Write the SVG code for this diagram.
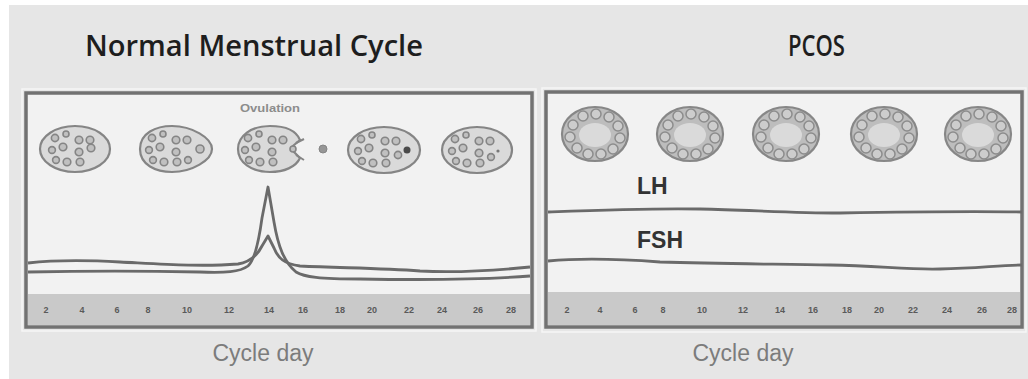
<svg xmlns="http://www.w3.org/2000/svg" width="1028" height="379" viewBox="0 0 1028 379">
  <style>
    .title { font-family: "Open Sans", "Liberation Sans", sans-serif; font-size: 28px; font-weight: 600; fill: #1e1e1e; }
    .axislbl { font-family: "Liberation Sans", Arial, sans-serif; font-size: 23px; fill: #7c7c7c; }
    .tick { font-family: "Liberation Sans", Arial, sans-serif; font-size: 9px; font-weight: bold; fill: #5a5a5a; text-anchor: middle; }
    .hormone { font-family: "Liberation Sans", Arial, sans-serif; font-size: 23px; font-weight: bold; fill: #333; }
    .panel { fill: #f2f2f2; stroke: #727272; stroke-width: 3.5; }
    .halo { fill: none; stroke: #f6f6f6; stroke-width: 1.5; }
    .band { fill: #c9c9c9; }
    .curve { fill: none; stroke: #6a6a6a; stroke-width: 2.8; stroke-linejoin: round; }
    .ovary { fill: #dadada; stroke: #858585; stroke-width: 2.2; }
    .fol { fill: #c0c0c0; stroke: #858585; stroke-width: 1.6; }
    .pco { fill: #bdbdbd; stroke: #878787; stroke-width: 2.2; }
    .pcofol { fill: #cdcdcd; stroke: #8c8c8c; stroke-width: 1.5; }
    .pcocore { fill: #dadada; stroke: none; }
  </style>
  <defs>
    <!-- scattered follicles of a normal ovary, centred on 0,0 -->
    <g id="follicles">
      <circle class="fol" cx="-20" cy="-11" r="3.6"/>
      <circle class="fol" cx="-9" cy="-15" r="3"/>
      <circle class="fol" cx="4" cy="-9" r="3.8"/>
      <circle class="fol" cx="15" cy="-9" r="3.8"/>
      <circle class="fol" cx="-23" cy="1" r="3.4"/>
      <circle class="fol" cx="-12" cy="-2" r="3.8"/>
      <circle class="fol" cx="4" cy="3" r="3.8"/>
      <circle class="fol" cx="-19" cy="11" r="3.4"/>
      <circle class="fol" cx="-8" cy="13" r="3.8"/>
      <circle class="fol" cx="5" cy="13" r="3.8"/>
    </g>
    <!-- polycystic ovary: ring of peripheral follicles round a pale core -->
    <g id="pcoOvary">
      <ellipse class="pco" cx="0" cy="0" rx="33" ry="27"/>
      <ellipse class="pcocore" cx="0" cy="1" rx="16" ry="12"/>
      <circle class="pcofol" cx="-22" cy="-9" r="5"/>
      <circle class="pcofol" cx="-12" cy="-18" r="5"/>
      <circle class="pcofol" cx="1" cy="-20" r="5"/>
      <circle class="pcofol" cx="14" cy="-17" r="5"/>
      <circle class="pcofol" cx="23" cy="-8" r="5"/>
      <circle class="pcofol" cx="25" cy="4" r="5"/>
      <circle class="pcofol" cx="18" cy="15" r="5"/>
      <circle class="pcofol" cx="6" cy="20" r="5"/>
      <circle class="pcofol" cx="-7" cy="20" r="5"/>
      <circle class="pcofol" cx="-18" cy="14" r="5"/>
      <circle class="pcofol" cx="-25" cy="3" r="5"/>
    </g>
  </defs>

  <!-- backdrop -->
  <rect x="0" y="0" width="1028" height="379" fill="#ffffff"/>
  <rect x="9" y="5" width="1019" height="374" fill="#e6e6e6"/>

  <!-- headings -->
  <text class="title" x="85" y="56" textLength="338" lengthAdjust="spacingAndGlyphs">Normal Menstrual Cycle</text>
  <text class="title" x="788" y="56" textLength="57" lengthAdjust="spacingAndGlyphs">PCOS</text>

  <!-- ===== normal cycle chart ===== -->
  <g id="normal-panel">
    <rect class="halo" x="22" y="89" width="514" height="242"/>
    <rect class="panel" x="26" y="93" width="506" height="234"/>
    <rect class="band" x="28" y="294" width="502" height="31"/>
    <g id="normal-ticks">
      <text class="tick" x="46" y="313">2</text>
      <text class="tick" x="82" y="313">4</text>
      <text class="tick" x="117" y="313">6</text>
      <text class="tick" x="148" y="313">8</text>
      <text class="tick" x="187" y="313">10</text>
      <text class="tick" x="229" y="313">12</text>
      <text class="tick" x="269" y="313">14</text>
      <text class="tick" x="303" y="313">16</text>
      <text class="tick" x="340" y="313">18</text>
      <text class="tick" x="372" y="313">20</text>
      <text class="tick" x="409" y="313">22</text>
      <text class="tick" x="442" y="313">24</text>
      <text class="tick" x="478" y="313">26</text>
      <text class="tick" x="511" y="313">28</text>
    </g>
  </g>
  <text class="axislbl" x="263" y="361" text-anchor="middle">Cycle day</text>

  <text id="ovulation-label" x="270" y="112" text-anchor="middle" font-family="Liberation Sans, Arial, sans-serif" font-size="10.5" font-weight="bold" fill="#8c8c8c" textLength="60" lengthAdjust="spacingAndGlyphs">Ovulation</text>

  <!-- ovary sequence through the cycle -->
  <g id="ovary-1">
    <ellipse class="ovary" cx="75" cy="149" rx="35" ry="23"/>
    <use href="#follicles" x="75" y="149"/>
    <circle class="fol" cx="91" cy="148" r="3.8"/>
  </g>
  <g id="ovary-2">
    <path class="ovary" d="M140,149 C140,133 156,126 172,126 C192,126 212,138 212,149 C212,160 192,172 172,172 C156,172 140,165 140,149 Z"/>
    <use href="#follicles" x="172" y="149"/>
    <circle class="fol" cx="200" cy="149" r="4"/>
    <circle class="fol" cx="188" cy="160" r="3.4"/>
  </g>
  <g id="ovary-3">
    <path class="ovary" d="M300,140 C296,130 284,126 270,126 C251,126 238,136 238,149 C238,162 251,172 270,172 C284,172 296,167 300,158 L294,152 L293,146 Z"/>
    <use href="#follicles" x="268" y="149"/>
    <path d="M296,143 L304,139 M296,155 L304,160" stroke="#858585" stroke-width="2" fill="none"/>
    <circle class="fol" cx="293" cy="149" r="3"/>
    <circle cx="323" cy="149" r="4" fill="#969696" stroke="#858585" stroke-width="1"/>
  </g>
  <g id="ovary-4">
    <ellipse class="ovary" cx="384" cy="150" rx="36" ry="23"/>
    <use href="#follicles" x="381" y="150"/>
    <circle class="fol" cx="398" cy="155" r="3.6"/>
    <circle cx="407" cy="150" r="3.5" fill="#4a4a4a"/>
  </g>
  <g id="ovary-5">
    <ellipse class="ovary" cx="477" cy="150" rx="35" ry="23"/>
    <use href="#follicles" x="475" y="150"/>
    <circle class="fol" cx="491" cy="157" r="3.4"/>
    <circle cx="498" cy="151" r="1.6" fill="#777"/>
  </g>

  <!-- hormone curves, normal cycle -->
  <g id="normal-curves">
    <path class="curve" d="M28,263 C55,260 85,260 120,262 C160,264 200,267 238,264 C250,262 258,254 262,246 L268,236 L274,248 C278,258 284,264 300,266 C340,268 380,268 420,271 C460,273 500,270 530,267"/>
    <path class="curve" d="M28,272 C80,271 150,271 200,272 C225,273 240,272 248,266 C255,260 259,240 262,218 L268,187 L274,222 C278,246 284,262 296,272 C304,277 320,279 360,279 C420,280 480,280 530,276"/>
  </g>

  <!-- ===== PCOS chart ===== -->
  <g id="pcos-panel">
    <rect class="halo" x="542" y="88" width="484" height="244"/>
    <rect class="panel" x="546" y="92" width="476" height="235" stroke-width="3"/>
    <rect class="band" x="548" y="292" width="472" height="33"/>
    <g id="pcos-ticks">
      <text class="tick" x="567" y="313">2</text>
      <text class="tick" x="600" y="313">4</text>
      <text class="tick" x="635" y="313">6</text>
      <text class="tick" x="663" y="313">8</text>
      <text class="tick" x="702" y="313">10</text>
      <text class="tick" x="743" y="313">12</text>
      <text class="tick" x="780" y="313">14</text>
      <text class="tick" x="813" y="313">16</text>
      <text class="tick" x="847" y="313">18</text>
      <text class="tick" x="879" y="313">20</text>
      <text class="tick" x="913" y="313">22</text>
      <text class="tick" x="947" y="313">24</text>
      <text class="tick" x="982" y="313">26</text>
      <text class="tick" x="1012" y="313">28</text>
    </g>
  </g>
  <text class="axislbl" x="743" y="361" text-anchor="middle">Cycle day</text>

  <g id="pco-1"><use href="#pcoOvary" x="595" y="134"/></g>
  <g id="pco-2"><use href="#pcoOvary" x="690" y="134"/></g>
  <g id="pco-3"><use href="#pcoOvary" x="786" y="134"/></g>
  <g id="pco-4"><use href="#pcoOvary" x="884" y="134"/></g>
  <g id="pco-5"><use href="#pcoOvary" x="978" y="134"/></g>

  <g id="lh-label"><text class="hormone" x="637" y="194">LH</text></g>
  <g id="fsh-label"><text class="hormone" x="637" y="248">FSH</text></g>

  <!-- flat hormone levels, PCOS -->
  <g id="pcos-curves">
    <path class="curve" d="M548,212 C600,210 650,208 700,209 C750,210 790,213 840,213 C900,212 960,211 1022,212"/>
    <path class="curve" d="M548,261 C580,258 620,259 660,262 C720,264 780,264 830,265 C880,266 910,270 940,269 C980,268 1000,265 1022,265"/>
  </g>
</svg>
